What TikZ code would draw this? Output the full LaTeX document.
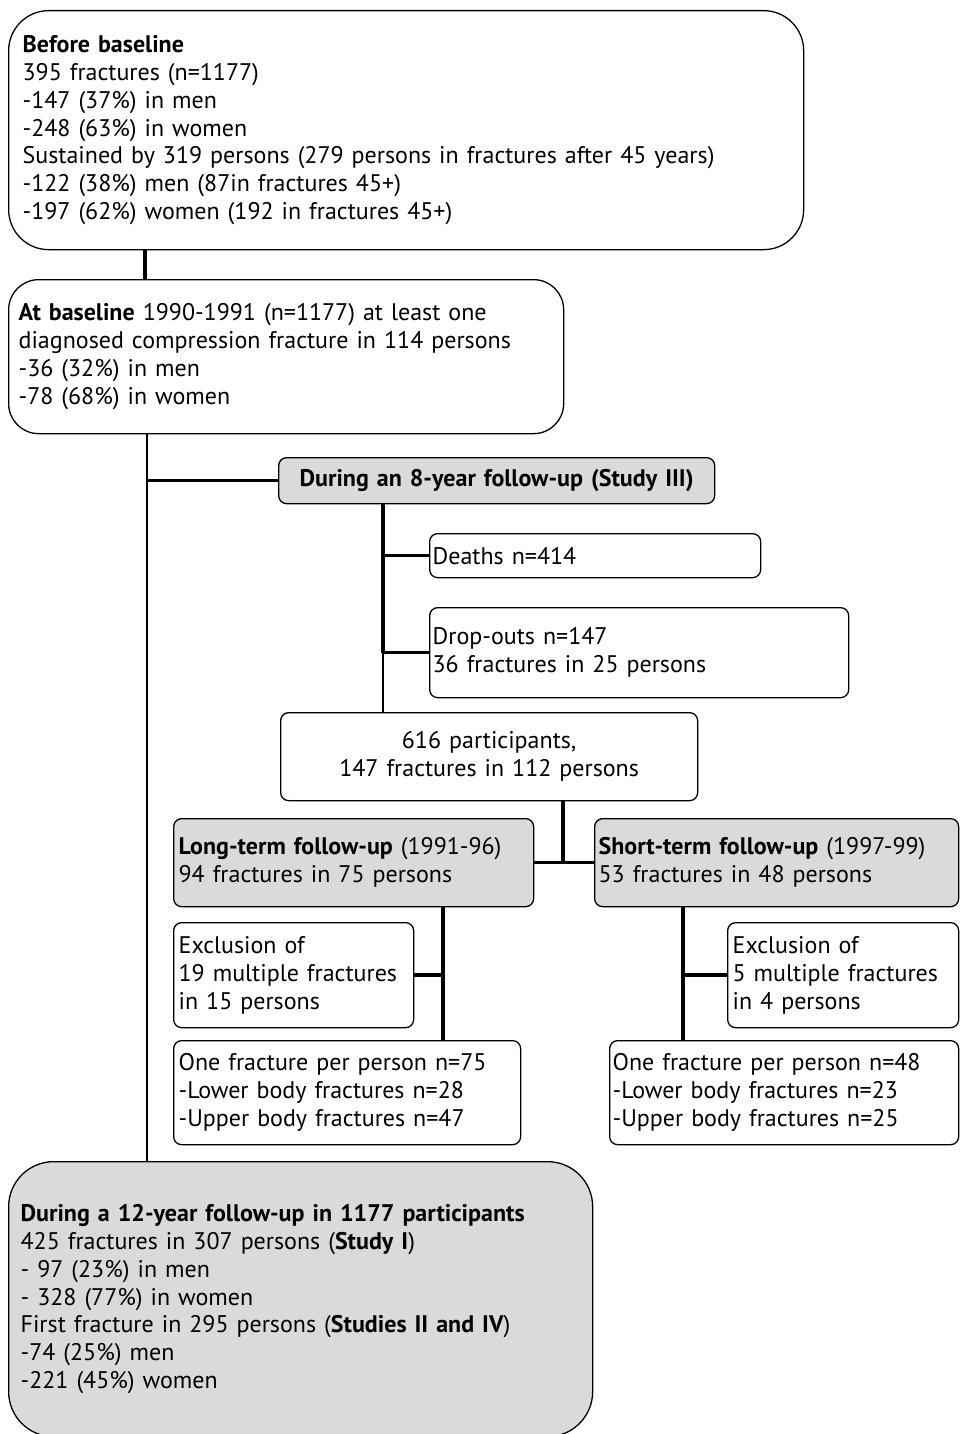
\documentclass[tikz,border=0pt]{standalone}
\usepackage{fontspec}
\setmainfont{PT Sans}
\definecolor{boxgray}{RGB}{218,218,218}
\begin{document}
\begin{tikzpicture}[x=1pt,y=-1pt,
  box/.style={draw, line width=1.3pt, rounded corners=8pt, anchor=north west, align=left, inner ysep=0pt, font=\fontsize{24}{27.8}\selectfont},
  gbox/.style={box, fill=boxgray},
  conthick/.style={line width=3.5pt},
  conthin/.style={line width=2pt}]
\useasboundingbox (0,0) rectangle (960,1434);

\node[box, rounded corners=40pt, text width=767pt, minimum height=239pt, inner xsep=14pt] (b1) at (8,10)
{\textbf{Before baseline}\\
395 fractures (n=1177)\\
-147 (37\%) in men\\
-248 (63\%) in women\\
Sustained by 319 persons (279 persons in fractures after 45 years)\\
-122 (38\%) men (87in fractures 45+)\\
-197 (62\%) women (192 in fractures 45+)};

\node[box, rounded corners=30pt, text width=535pt, minimum height=154pt, inner xsep=10pt] (b2) at (8,279)
{\textbf{At baseline} 1990-1991 (n=1177) at least one\\
diagnosed compression fracture in 114 persons\\
-36 (32\%) in men\\
-78 (68\%) in women};

\node[gbox, align=center, text width=428pt, minimum height=46pt, inner xsep=4pt] (fu8) at (278,457)
{\textbf{During an 8-year follow-up (Study III)}};

\node[box, text width=325pt, minimum height=44pt, inner xsep=3pt] (deaths) at (429,533)
{Deaths n=414};

\node[box, text width=413pt, minimum height=90pt, inner xsep=3pt] (drop) at (429,607)
{Drop-outs n=147\\
36 fractures in 25 persons};

\node[box, align=center, text width=409pt, minimum height=88pt, inner xsep=4pt] (p616) at (280,712)
{616 participants,\\
147 fractures in 112 persons};

\node[gbox, text width=350pt, minimum height=88pt, inner xsep=5pt] (long) at (173,818)
{\textbf{Long-term follow-up} (1991-96)\\
94 fractures in 75 persons};

\node[gbox, text width=356pt, minimum height=88pt, inner xsep=4pt] (short) at (594,818)
{\textbf{Short-term follow-up} (1997-99)\\
53 fractures in 48 persons};

\node[box, text width=230pt, minimum height=105pt, inner xsep=5pt] (exl) at (173,922)
{Exclusion of\\
19 multiple fractures\\
in 15 persons};

\node[box, text width=337pt, minimum height=104pt, inner xsep=5pt] (onel) at (173,1040)
{One fracture per person n=75\\
-Lower body fractures n=28\\
-Upper body fractures n=47};

\node[box, text width=221pt, minimum height=105pt, inner xsep=5pt] (exr) at (727,922)
{Exclusion of\\
5 multiple fractures\\
in 4 persons};

\node[box, text width=343pt, minimum height=104pt, inner xsep=3pt] (oner) at (609,1040)
{One fracture per person n=48\\
-Lower body fractures n=23\\
-Upper body fractures n=25};

\node[gbox, rounded corners=45pt, text width=560pt, minimum height=275pt, inner xsep=12pt] (bot) at (8,1161)
{\textbf{During a 12-year follow-up in 1177 participants}\\
425 fractures in 307 persons (\textbf{Study I})\\
- 97 (23\%) in men\\
- 328 (77\%) in women\\
First fracture in 295 persons (\textbf{Studies II and IV})\\
-74 (25\%) men\\
-221 (45\%) women};

% guide coordinates
\coordinate (xa) at (145,0);
\coordinate (xl) at (147,0);
\coordinate (xv) at (383,0);
\coordinate (xm) at (563,0);
\coordinate (xlv) at (443,0);
\coordinate (xsv) at (683,0);

% connectors
\draw[conthick] (b1.south -| xa) -- (b2.north -| xa);
\draw[conthin] (b2.south -| xl) -- (bot.north -| xl);
\draw[conthick] (fu8.west) -- (fu8.west -| xl);
\draw[conthick] (fu8.south -| xv) -- (drop.west -| xv);
\draw[conthin] (drop.west -| xv) -- (p616.north -| xv);
\draw[conthick] (deaths.west) -- (deaths.west -| xv);
\draw[conthick] (drop.west) -- (drop.west -| xv);
\draw[conthick] (p616.south -| xm) -- (long.east -| xm);
\draw[conthick] (long.east) -- (short.west);
\draw[conthick] (long.south -| xlv) -- (onel.north -| xlv);
\draw[conthick] (exl.east) -- (exl.east -| xlv);
\draw[conthick] (short.south -| xsv) -- (oner.north -| xsv);
\draw[conthick] (exr.west) -- (exr.west -| xsv);
\end{tikzpicture}
\end{document}
